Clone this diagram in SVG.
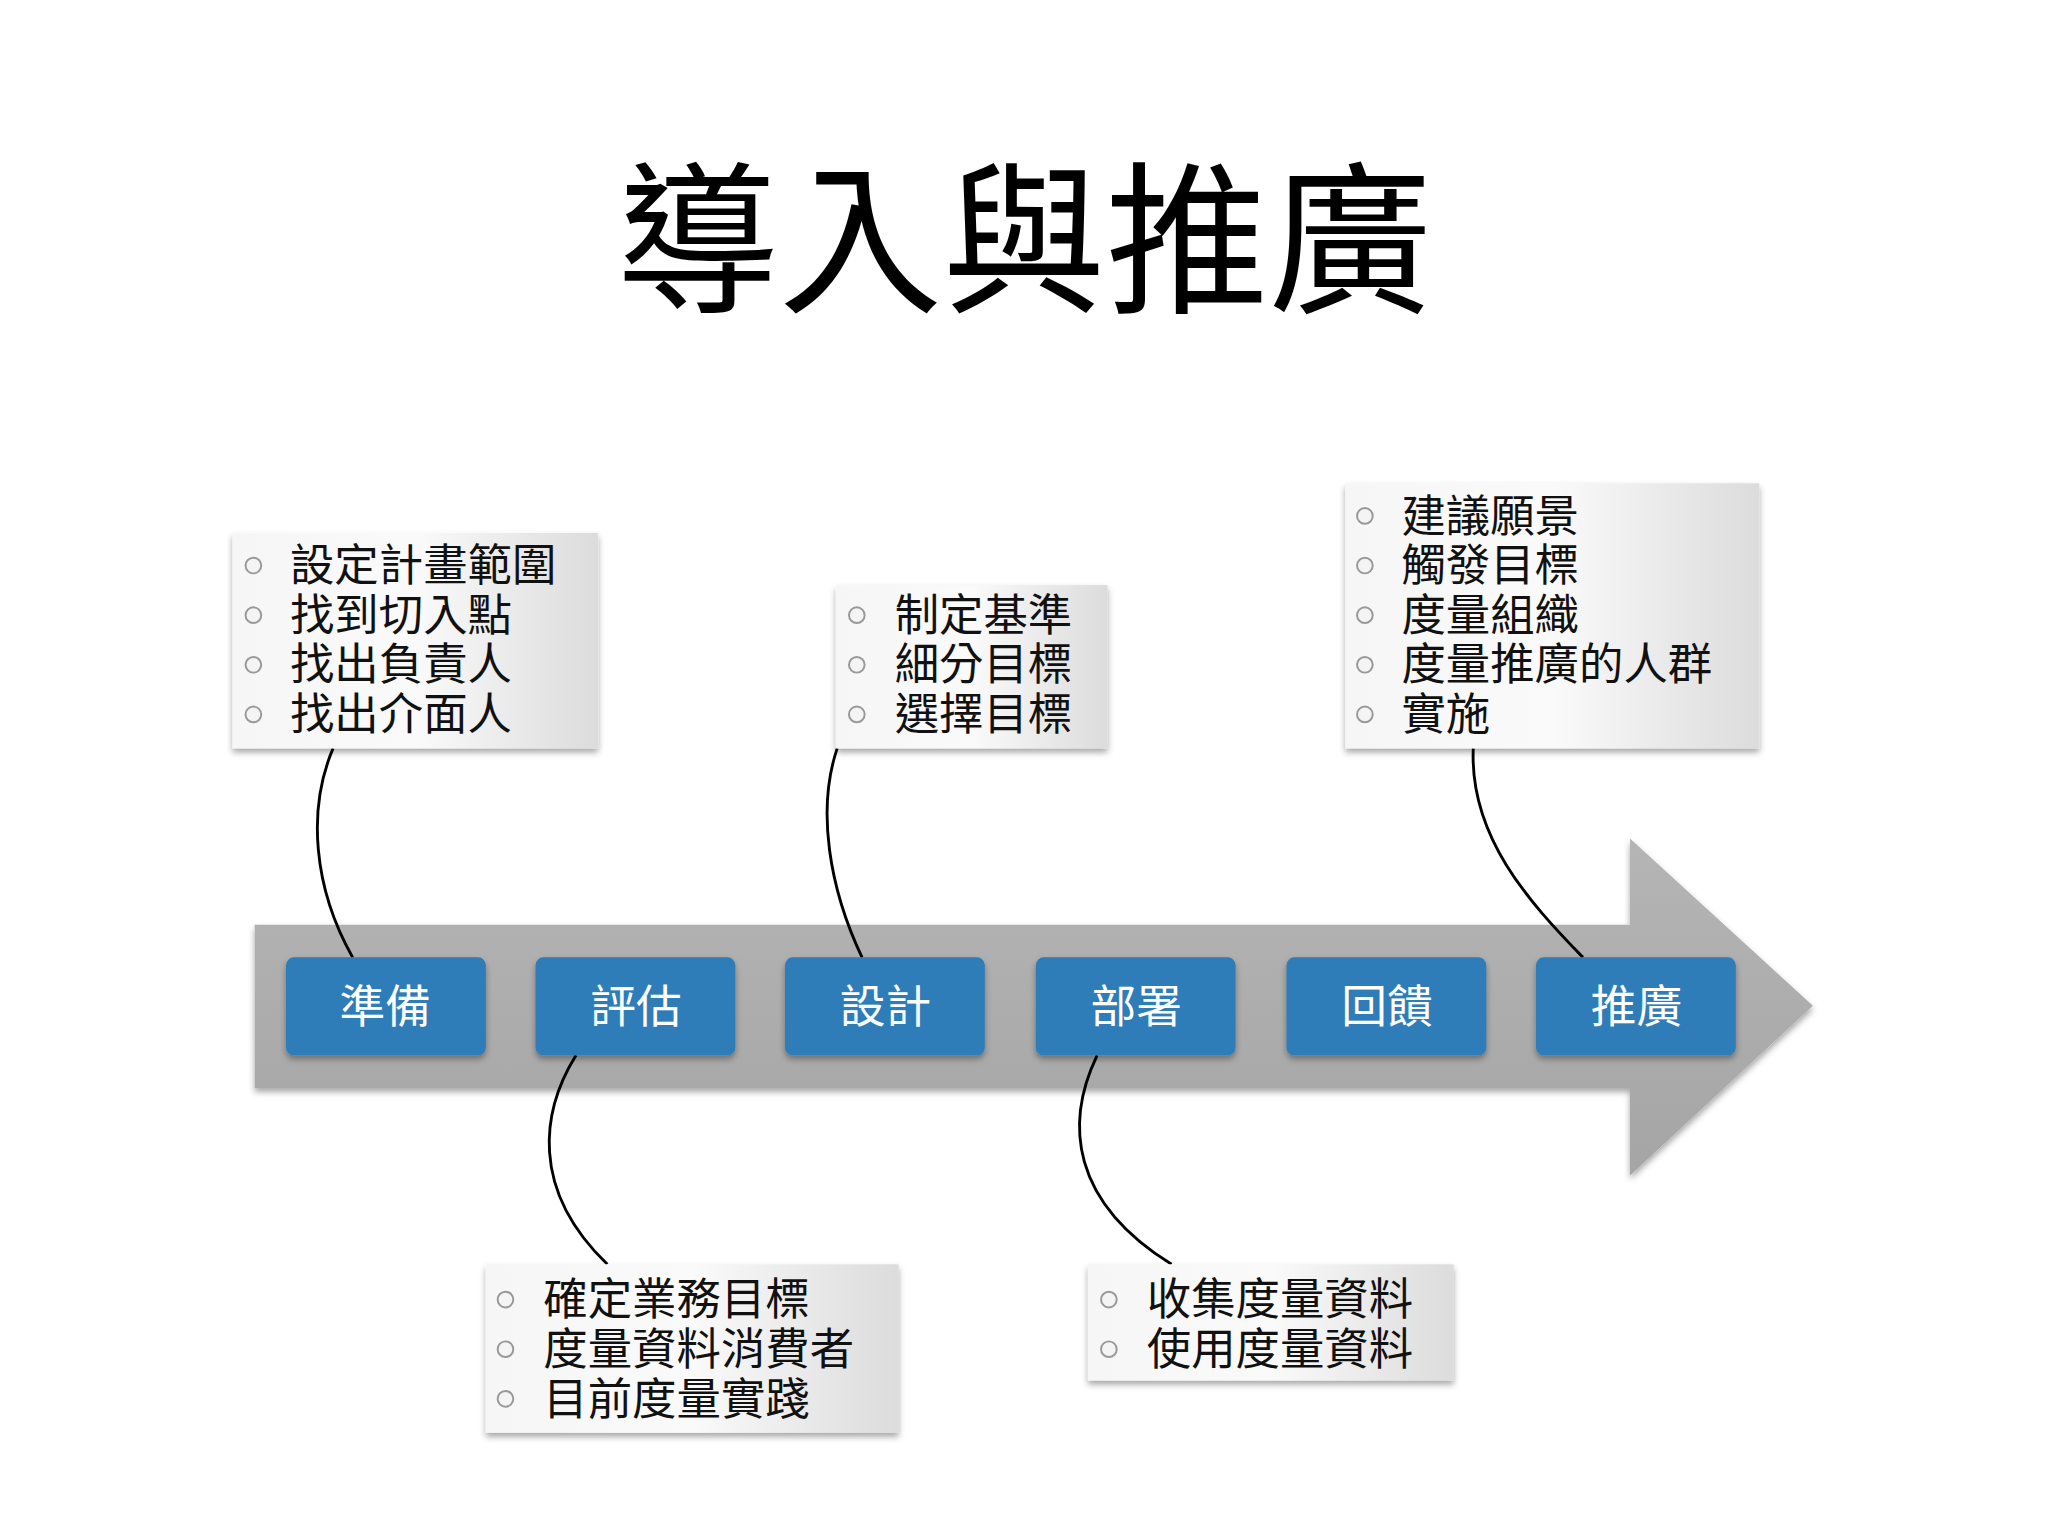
<svg xmlns="http://www.w3.org/2000/svg" width="2048" height="1536" viewBox="0 0 2048 1536">
<style>
.t{font-family:"Liberation Sans","Noto Sans CJK TC",sans-serif;font-size:34px;fill:#111}
.b{font-family:"Liberation Sans","Noto Sans CJK TC",sans-serif;font-size:35px;fill:#fff;text-anchor:middle}
.blue{fill:#2d7db8;filter:url(#sh)}
.card{fill:url(#cg);filter:url(#sh)}
.dot{fill:#f4f4f4;stroke:#999;stroke-width:1.5}
.c{fill:none;stroke:#000;stroke-width:2.2}
</style>
<defs>
<linearGradient id="cg" x1="0" y1="0" x2="1" y2="0"><stop offset="0" stop-color="#f6f6f6"/><stop offset="0.5" stop-color="#fafafa"/><stop offset="1" stop-color="#dcdcdc"/></linearGradient>
<linearGradient id="ag" x1="0" y1="0" x2="0" y2="1"><stop offset="0" stop-color="#b5b5b5"/><stop offset="1" stop-color="#a5a5a5"/></linearGradient>
<filter id="sh" x="-10%" y="-10%" width="120%" height="130%"><feDropShadow dx="0" dy="3" stdDeviation="2.5" flood-opacity="0.35"/></filter>
</defs>
<rect width="2048" height="1536" fill="#fff"/>
<g transform="scale(1.3061)">
<text x="784" y="230" text-anchor="middle" style="font-family:'Liberation Sans','Noto Sans CJK TC',sans-serif;font-size:125px;fill:#000">導入與推廣</text>
<g id="arrow"><path d="M195 708 H1248 V642 L1388 770 L1248 900 V833 H195 Z" fill="url(#ag)" filter="url(#sh)"/></g>
<g id="connectors">
<path class="c" d="M255 573 C235 620 240 680 270 733"/>
<path class="c" d="M641 573 C625 620 635 680 660 733"/>
<path class="c" d="M1128 573 C1125 640 1170 690 1212 733"/>
<path class="c" d="M441 808 C415 850 405 910 465 968"/>
<path class="c" d="M840 808 C815 860 820 920 897 968"/>
</g>
<g id="s1"><rect class="blue" x="219" y="733" width="153" height="75" rx="6"/><text class="b" x="295" y="783">準備</text></g>
<g id="s2"><rect class="blue" x="410" y="733" width="153" height="75" rx="6"/><text class="b" x="487" y="783">評估</text></g>
<g id="s3"><rect class="blue" x="601" y="733" width="153" height="75" rx="6"/><text class="b" x="678" y="783">設計</text></g>
<g id="s4"><rect class="blue" x="793" y="733" width="153" height="75" rx="6"/><text class="b" x="870" y="783">部署</text></g>
<g id="s5"><rect class="blue" x="985" y="733" width="153" height="75" rx="6"/><text class="b" x="1062" y="783">回饋</text></g>
<g id="s6"><rect class="blue" x="1176" y="733" width="153" height="75" rx="6"/><text class="b" x="1253" y="783">推廣</text></g>
<g id="n1"><rect class="card" x="178" y="408" width="280" height="165"/>
<circle class="dot" cx="194" cy="433" r="6"/><circle class="dot" cx="194" cy="471" r="6"/><circle class="dot" cx="194" cy="509" r="6"/><circle class="dot" cx="194" cy="547" r="6"/>
<text class="t" x="222" y="445">設定計畫範圍</text><text class="t" x="222" y="483">找到切入點</text><text class="t" x="222" y="521">找出負責人</text><text class="t" x="222" y="559">找出介面人</text></g>
<g id="n2"><rect class="card" x="640" y="448" width="208" height="125"/>
<circle class="dot" cx="656" cy="471" r="6"/><circle class="dot" cx="656" cy="509" r="6"/><circle class="dot" cx="656" cy="547" r="6"/>
<text class="t" x="685" y="483">制定基準</text><text class="t" x="685" y="521">細分目標</text><text class="t" x="685" y="559">選擇目標</text></g>
<g id="n3"><rect class="card" x="1030" y="370" width="317" height="203"/>
<circle class="dot" cx="1045" cy="395" r="6"/><circle class="dot" cx="1045" cy="433" r="6"/><circle class="dot" cx="1045" cy="471" r="6"/><circle class="dot" cx="1045" cy="509" r="6"/><circle class="dot" cx="1045" cy="547" r="6"/>
<text class="t" x="1073" y="407">建議願景</text><text class="t" x="1073" y="445">觸發目標</text><text class="t" x="1073" y="483">度量組織</text><text class="t" x="1073" y="521">度量推廣的人群</text><text class="t" x="1073" y="559">實施</text></g>
<g id="n4"><rect class="card" x="372" y="968" width="316" height="129"/>
<circle class="dot" cx="387" cy="995" r="6"/><circle class="dot" cx="387" cy="1033" r="6"/><circle class="dot" cx="387" cy="1071" r="6"/>
<text class="t" x="416" y="1007">確定業務目標</text><text class="t" x="416" y="1045">度量資料消費者</text><text class="t" x="416" y="1083">目前度量實踐</text></g>
<g id="n5"><rect class="card" x="833" y="968" width="280" height="89"/>
<circle class="dot" cx="849" cy="995" r="6"/><circle class="dot" cx="849" cy="1033" r="6"/>
<text class="t" x="878" y="1007">收集度量資料</text><text class="t" x="878" y="1045">使用度量資料</text></g>
</g>
</svg>
